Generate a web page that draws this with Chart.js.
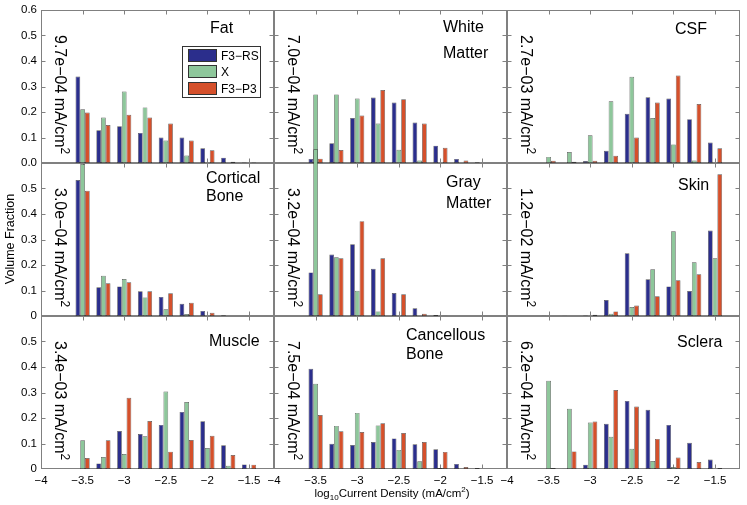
<!DOCTYPE html>
<html>
<head>
<meta charset="utf-8">
<script src="https://cdn.jsdelivr.net/npm/chart.js@4.4.1/dist/chart.umd.min.js"></script>
<style>
  body { margin: 0; background: #fff; }
  #fig { position: relative; width: 747px; height: 505px; overflow: hidden;
         font-family: "Liberation Sans", Arial, Helvetica, sans-serif; color: #000; }
  #fig canvas { position: absolute; }
  .ttl { position: absolute; font-size: 16px; line-height: 20px; white-space: nowrap; }
  .dens { position: absolute; font-size: 16px; line-height: 18px; white-space: nowrap;
          transform-origin: 0 0; transform: rotate(90deg); }
  .dens sup { font-size: 12px; vertical-align: 6px; line-height: 0; }
  .axt { position: absolute; font-size: 11.5px; white-space: nowrap; }
  .axt sub, .axt sup { font-size: 8px; line-height: 0; }
  #legend { position: absolute; left: 182px; top: 46px; width: 77px; height: 50px;
            border: 1px solid #333; background: #fff; }
  #legend div { position: absolute; left: 5px; height: 16px; font-size: 12px; line-height: 14px; }
  #legend span { display: inline-block; width: 27px; height: 11px; border: 1px solid #333;
                 vertical-align: -2px; margin-right: 4px; }
</style>
</head>
<body>
<div id="fig"></div>
<script>
// bin centres (log10 current density) and axis ticks
const bins = [-3.5, -3.25, -3.0, -2.75, -2.5, -2.25, -2.0, -1.75, -1.5];
const xTicks = [-4, -3.5, -3, -2.5, -2, -1.5];
const yTicks = [0, 0.1, 0.2, 0.3, 0.4, 0.5, 0.6];
const seriesNames = ['F3\u2212RS', 'X', 'F3\u2212P3'];
const seriesColors = ['#2b2e8c', '#8ec79b', '#d5502b'];

const tissues = ['Fat', 'White Matter', 'CSF', 'Cortical Bone', 'Gray Matter', 'Skin',
                 'Muscle', 'Cancellous Bone', 'Sclera'];
const densities = ['9.7e\u221204', '7.0e\u221204', '2.7e\u221203', '3.0e\u221204', '3.2e\u221204',
                   '1.2e\u221202', '3.4e\u221203', '7.5e\u221204', '6.2e\u221204'];

// volume fractions, one array per tissue and series
const fatRS = [0.339, 0.128, 0.144, 0.118, 0.100, 0.100, 0.058, 0.021, 0.002];
const fatX  = [0.211, 0.178, 0.280, 0.218, 0.088, 0.029, 0.001, 0, 0];
const fatP3 = [0.198, 0.149, 0.189, 0.178, 0.155, 0.088, 0.050, 0.005, 0.002];

const wmRS = [0.016, 0.077, 0.176, 0.257, 0.237, 0.159, 0.068, 0.016, 0.003];
const wmX  = [0.269, 0.269, 0.253, 0.155, 0.052, 0.010, 0, 0, 0];
const wmP3 = [0.017, 0.051, 0.186, 0.286, 0.250, 0.155, 0.060, 0.010, 0];

const csfRS = [0, 0, 0.008, 0.048, 0.193, 0.258, 0.253, 0.172, 0.080];
const csfX  = [0.024, 0.043, 0.109, 0.242, 0.338, 0.176, 0.073, 0.010, 0];
const csfP3 = [0.009, 0.005, 0.009, 0.028, 0.100, 0.237, 0.343, 0.231, 0.058];

const cbRS = [0.533, 0.113, 0.116, 0.097, 0.075, 0.048, 0.020, 0.003, 0];
const cbX  = [0.596, 0.158, 0.145, 0.073, 0.026, 0.008, 0, 0, 0];
const cbP3 = [0.491, 0.128, 0.132, 0.097, 0.089, 0.052, 0.013, 0, 0];

const gmRS = [0.171, 0.241, 0.281, 0.185, 0.090, 0.030, 0.004, 0, 0];
const gmX  = [0.654, 0.230, 0.099, 0.018, 0, 0, 0, 0, 0];
const gmP3 = [0.085, 0.226, 0.372, 0.226, 0.085, 0.009, 0.001, 0, 0];

const skinRS = [0.001, 0.001, 0.002, 0.063, 0.246, 0.144, 0.116, 0.098, 0.335];
const skinX  = [0, 0, 0, 0.009, 0.035, 0.183, 0.332, 0.211, 0.226];
const skinP3 = [0, 0, 0.005, 0.018, 0.041, 0.077, 0.140, 0.164, 0.556];

const muRS = [0, 0.022, 0.149, 0.137, 0.173, 0.224, 0.187, 0.093, 0.018];
const muX  = [0.113, 0.047, 0.059, 0.128, 0.304, 0.263, 0.082, 0.013, 0];
const muP3 = [0.043, 0.113, 0.279, 0.188, 0.068, 0.114, 0.130, 0.055, 0.017];

const cnRS = [0.393, 0.099, 0.094, 0.106, 0.120, 0.097, 0.077, 0.020, 0.004];
const cnX  = [0.334, 0.169, 0.220, 0.171, 0.075, 0.030, 0.004, 0, 0];
const cnP3 = [0.212, 0.148, 0.145, 0.179, 0.141, 0.106, 0.067, 0.008, 0];

const scRS = [0, 0.001, 0.017, 0.177, 0.267, 0.232, 0.173, 0.103, 0.037];
const scX  = [0.346, 0.236, 0.182, 0.126, 0.079, 0.031, 0.008, 0, 0];
const scP3 = [0.004, 0.069, 0.186, 0.310, 0.245, 0.118, 0.045, 0.027, 0.004];

const panelData = [
  [fatRS, fatX, fatP3], [wmRS, wmX, wmP3], [csfRS, csfX, csfP3],
  [cbRS, cbX, cbP3], [gmRS, gmX, gmP3], [skinRS, skinX, skinP3],
  [muRS, muX, muP3], [cnRS, cnX, cnP3], [scRS, scX, scP3]
];

// layout of the 3x3 grid (plot-area corners in page pixels)
const colLeft = [41, 274, 507];
const rowTop = [10, 163, 316];
const panelW = 233, panelH = 153;
const padL = 41, padT = 20, padR = 6, padB = 30;

// title lines: [text, left, top]
const titleLines = [
  [['Fat', 210, 18]],
  [['White', 443, 17], ['Matter', 443, 43]],
  [['CSF', 675, 19]],
  [['Cortical', 206, 168], ['Bone', 206, 186]],
  [['Gray', 446, 172], ['Matter', 446, 193]],
  [['Skin', 678, 175]],
  [['Muscle', 209, 331]],
  [['Cancellous', 406, 325], ['Bone', 406, 344]],
  [['Sclera', 677, 332]]
];

Chart.defaults.font.family = '"Liberation Sans", Arial, Helvetica, sans-serif';
Chart.defaults.color = '#000';

const minus = v => (v < 0 ? '\u2212' + String(-v) : String(v));

const framePlugin = {
  id: 'frame',
  beforeDatasetsDraw(chart) {
    const { ctx, chartArea: a, scales } = chart;
    const L = Math.round(a.left) + 0.5, R = Math.round(a.right) - 0.5;
    const T = Math.round(a.top) + 0.5, B = Math.round(a.bottom) - 0.5;
    ctx.save();
    ctx.strokeStyle = '#808080';
    ctx.lineWidth = 1;
    ctx.strokeRect(L, T, R - L, B - T);
    ctx.beginPath();
    xTicks.slice(1).forEach(v => {
      const px = Math.round(scales.x.getPixelForValue(v)) + 0.5;
      ctx.moveTo(px, B); ctx.lineTo(px, B - 4);
      ctx.moveTo(px, T); ctx.lineTo(px, T + 4);
    });
    yTicks.slice(1, -1).forEach(v => {
      const py = Math.round(scales.y.getPixelForValue(v)) + 0.5;
      ctx.moveTo(L, py); ctx.lineTo(L + 4, py);
      ctx.moveTo(R, py); ctx.lineTo(R - 4, py);
    });
    ctx.stroke();
    ctx.restore();
  }
};

const fig = document.getElementById('fig');

tissues.forEach((name, k) => {
  const row = Math.floor(k / 3), col = k % 3;
  const cv = document.createElement('canvas');
  const w = panelW + padL + padR, h = panelH + padT + padB;
  cv.width = w; cv.height = h;
  cv.style.width = w + 'px'; cv.style.height = h + 'px';
  cv.style.left = (colLeft[col] - padL) + 'px';
  cv.style.top = (rowTop[row] - padT) + 'px';
  fig.appendChild(cv);

  const datasets = panelData[k].map((vals, s) => ({
    label: seriesNames[s],
    data: bins.map((b, i) => ({ x: b, y: vals[i] })),
    backgroundColor: seriesColors[s],
    borderColor: 'rgba(30,30,30,0.75)',
    borderWidth: 0.7,
    borderSkipped: false,
    clip: false
  }));

  new Chart(cv, {
    type: 'bar',
    data: { datasets },
    options: {
      responsive: false,
      animation: false,
      devicePixelRatio: 1,
      categoryPercentage: 0.68,
      barPercentage: 1.0,
      layout: { padding: { top: padT, right: padR, left: 0, bottom: 0 } },
      plugins: { legend: { display: false }, tooltip: { enabled: false } },
      scales: {
        x: {
          type: 'linear', min: -4, max: -1.2, offset: false,
          grid: { display: false, drawTicks: false }, border: { display: false },
          afterBuildTicks: s => { s.ticks = xTicks.map(v => ({ value: v })); },
          afterFit: s => { s.height = padB; },
          ticks: { display: row === 2, autoSkip: false, maxRotation: 0, padding: 5,
                   font: { size: 11.5 }, callback: v => minus(v) }
        },
        y: {
          min: 0, max: 0.6,
          grid: { display: false, drawTicks: false }, border: { display: false },
          afterBuildTicks: s => { s.ticks = yTicks.map(v => ({ value: v })); },
          afterFit: s => { s.width = padL; },
          ticks: { display: col === 0, padding: 4, font: { size: 11.5 },
                   callback: v => row === 0 ? v.toFixed(1) : (v === 0 ? '0' : (v > 0.55 ? '' : v.toFixed(1))) }
        }
      }
    },
    plugins: [framePlugin]
  });

  titleLines[k].forEach(([txt, x, y]) => {
    const d = document.createElement('div');
    d.className = 'ttl';
    d.style.left = x + 'px'; d.style.top = y + 'px';
    d.textContent = txt;
    fig.appendChild(d);
  });

  const dl = document.createElement('div');
  dl.className = 'dens';
  dl.style.left = (colLeft[col] + 27.5) + 'px';
  dl.style.top = (rowTop[row] + 25) + 'px';
  dl.innerHTML = densities[k] + ' mA/cm<sup>2</sup>';
  fig.appendChild(dl);
});

// legend (inside the Fat panel)
const lg = document.createElement('div');
lg.id = 'legend';
seriesNames.forEach((n, s) => {
  const e = document.createElement('div');
  e.style.top = (2 + s * 16.4) + 'px';
  e.innerHTML = '<span style="background:' + seriesColors[s] + '"></span>' + n;
  lg.appendChild(e);
});
fig.appendChild(lg);

// axis titles
const yl = document.createElement('div');
yl.className = 'axt';
yl.style.fontSize = '12.5px';
yl.style.left = '10px'; yl.style.top = '239px';
yl.style.transform = 'translate(-50%,-50%) rotate(-90deg)';
yl.textContent = 'Volume Fraction';
fig.appendChild(yl);

const xl = document.createElement('div');
xl.className = 'axt';
xl.style.left = '392px'; xl.style.top = '493px';
xl.style.transform = 'translate(-50%,-50%)';
xl.innerHTML = 'log<sub>10</sub>Current Density (mA/cm<sup>2</sup>)';
fig.appendChild(xl);
</script>
</body>
</html>
